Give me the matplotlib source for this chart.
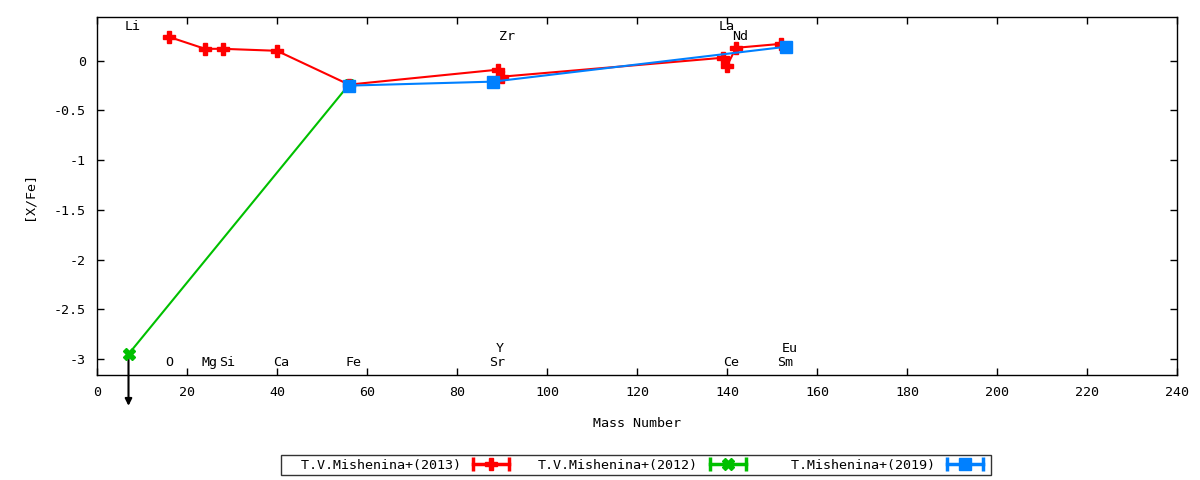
import matplotlib
matplotlib.use("Agg")
import matplotlib.pyplot as plt
from matplotlib.lines import Line2D
from matplotlib.legend_handler import HandlerLine2D, HandlerTuple

# Data
red_mass = [16, 24, 28, 40, 56, 89, 90, 139, 140, 142, 152]
red_val = [0.24, 0.12, 0.12, 0.10, -0.24, -0.09, -0.16, 0.03, -0.05, 0.13, 0.17]
green_mass = [7, 56]
green_val = [-2.95, -0.24]
blue_mass = [56, 88, 153]
blue_val = [-0.25, -0.21, 0.14]
upper_limit_mass = 7
upper_limit_val = -2.95

elem_labels = ["Li", "Zr", "La", "Nd", "O", "Mg", "Si", "Ca", "Fe", "Sr", "Y", "Ce", "Sm", "Eu"]
elem_x = [8, 91, 140, 143, 16, 25, 29, 41, 57, 89, 89.5, 141, 153, 154]
elem_y = [0.34, 0.24, 0.34, 0.24, -3.03, -3.03, -3.03, -3.03, -3.03, -3.03, -2.89, -3.03, -3.03, -2.89]

legend_labels = ["  T.V.Mishenina+(2013)", "T.V.Mishenina+(2012)", "  T.Mishenina+(2019)"]
colors = ["#ff0000", "#00c000", "#0080ff"]

xticks = list(range(0, 241, 20))
yticks = [0, -0.5, -1, -1.5, -2, -2.5, -3]
ytick_labels = ["0", "-0.5", "-1", "-1.5", "-2", "-2.5", "-3"]

FS = 9.6
plt.rcParams['font.family'] = ['DejaVu Sans Mono']
plt.rcParams['font.size'] = FS

fig = plt.figure(figsize=(12, 4.8), dpi=100)
ax = fig.add_axes([97/1200, 1-375/480, (1177-97)/1200, (375-17)/480])

ax.plot(red_mass, red_val, color=colors[0], lw=1.5, marker='P', ms=8, zorder=3)
ax.plot(green_mass, green_val, color=colors[1], lw=1.5, marker='X', ms=8, zorder=2)
ax.plot(blue_mass, blue_val, color=colors[2], lw=1.5, marker='s', ms=8, zorder=4)

ax.annotate("", xy=(upper_limit_mass, -3.47), xytext=(upper_limit_mass, upper_limit_val),
            arrowprops=dict(arrowstyle='-|>', color='black', lw=1.5, mutation_scale=10,
                            shrinkA=0, shrinkB=0),
            annotation_clip=False, zorder=1)

for t, x, y in zip(elem_labels, elem_x, elem_y):
    ax.text(x, y, t, ha='center', va='center', fontsize=FS)

ax.set_xlim(0, 240)
ax.set_ylim(-3.16, 0.44)
ax.set_xticks(xticks)
ax.set_yticks(yticks)
ax.set_yticklabels(ytick_labels)
ax.tick_params(direction='in', top=True, right=True, length=5, width=1, labelsize=FS, pad=8)
for s in ax.spines.values():
    s.set_linewidth(1)

ax.set_xlabel("Mass Number", fontsize=FS, labelpad=13)
ax.set_ylabel("[X/Fe]", fontsize=FS, labelpad=13)

markers = ['P', 'X', 's']
handles = []
hmap = {}
for c, m in zip(colors, markers):
    cap = Line2D([], [], color=c, lw=2.5, marker='|', ms=10, mew=2.5)
    mid = Line2D([], [], color=c, lw=0, marker=m, ms=8)
    handles.append((cap, mid))
    hmap[cap] = HandlerLine2D(numpoints=2)
    hmap[mid] = HandlerLine2D(numpoints=1)

leg = fig.legend(handles, legend_labels, ncol=3, loc='center', bbox_to_anchor=(636/1200, 1-465/480),
                 markerfirst=False, frameon=True, fancybox=False, edgecolor='black',
                 handler_map={tuple: HandlerTuple(ndivide=1, pad=0), **hmap}, handlelength=3.3,
                 columnspacing=1.9, borderpad=0.25, fontsize=FS, handletextpad=0.6)
leg.get_frame().set_linewidth(1)

fig.savefig("out.png", dpi=100)
